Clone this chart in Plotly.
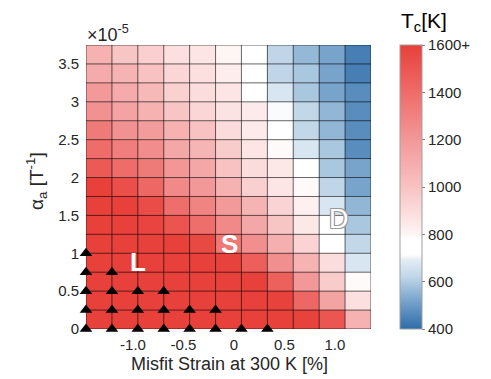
import plotly.graph_objects as go

# ---- data ----
x_edges = [-1.465, -1.208, -0.952, -0.695, -0.439, -0.182, 0.074, 0.331, 0.587, 0.844, 1.100, 1.357]
y_edges = [i * 0.25e-5 for i in range(16)]

# Tc [K], rows from bottom (alpha=0) to top, columns from left to right
tc = [
    [1600, 1600, 1600, 1600, 1600, 1600, 1600, 1600, 1590, 1500, 1080],
    [1600, 1600, 1600, 1600, 1600, 1600, 1600, 1590, 1420, 1150, 880],
    [1600, 1600, 1600, 1600, 1600, 1600, 1600, 1450, 1200, 960, 790],
    [1600, 1600, 1600, 1600, 1600, 1590, 1460, 1240, 1070, 890, 670],
    [1600, 1600, 1600, 1600, 1560, 1340, 1240, 1090, 930, 780, 625],
    [1600, 1600, 1580, 1510, 1390, 1270, 1130, 990, 850, 720, 590],
    [1600, 1600, 1540, 1390, 1290, 1190, 1070, 930, 820, 670, 555],
    [1600, 1530, 1420, 1270, 1200, 1080, 950, 860, 790, 620, 520],
    [1480, 1400, 1330, 1210, 1130, 1000, 900, 850, 720, 590, 520],
    [1400, 1320, 1250, 1130, 1060, 960, 860, 790, 670, 590, 470],
    [1330, 1230, 1180, 1080, 1000, 900, 840, 720, 625, 555, 470],
    [1230, 1150, 1080, 990, 920, 870, 840, 710, 625, 555, 470],
    [1190, 1110, 1050, 940, 890, 860, 780, 670, 590, 520, 470],
    [1110, 1070, 1000, 920, 880, 830, 730, 620, 590, 520, 440],
    [1080, 990, 950, 880, 860, 800, 720, 620, 560, 520, 440],
]

# triangles (liquid-phase markers): number of grid vertices per alpha row
tri_rows = [0.0, 0.25e-5, 0.5e-5, 0.75e-5, 1.0e-5]
tri_counts = [8, 6, 4, 2, 1]

region_labels = ["L", "S", "D"]
region_x = [-0.946, -0.043, 1.04]
region_y = [0.89e-5, 1.116e-5, 1.453e-5]

x_tickvals = [-1.0, -0.5, 0.0, 0.5, 1.0]
x_ticktext = ["-1.0", "-0.5", "0", "0.5", "1.0"]
y_tickvals = [0, 0.5e-5, 1e-5, 1.5e-5, 2e-5, 2.5e-5, 3e-5, 3.5e-5]
y_ticktext = ["0", "0.5", "1", "1.5", "2", "2.5", "3", "3.5"]
cb_tickvals = [400, 600, 800, 1000, 1200, 1400, 1600]
cb_ticktext = ["400", "600", "800", "1000", "1200", "1400", "1600+"]

zmin, zmax = 400, 1600

def n(v):
    return (v - zmin) / (zmax - zmin)

colorscale = [
    [n(400), "#2E6CA8"],
    [n(520), "#78A4CC"],
    [n(620), "#C0D6E8"],
    [n(690), "#E2ECF4"],
    [n(715), "#FFFFFF"],
    [n(780), "#FFFFFF"],
    [n(800), "#FEF5F5"],
    [n(880), "#FCE0E0"],
    [n(1000), "#F8C2C2"],
    [n(1200), "#F29898"],
    [n(1400), "#EE6C69"],
    [n(1600), "#E8403A"],
]

FONT = "Liberation Sans, Arial, Helvetica, sans-serif"
TXT = "#262626"
L, R, T, B = 86, 120, 45, 50
PW, PH = 491 - L - R, 379 - T - B

fig = go.Figure()
fig.add_trace(go.Heatmap(
    x=x_edges, y=y_edges, z=tc, zmin=zmin, zmax=zmax,
    colorscale=colorscale, hoverinfo="skip",
    colorbar=dict(
        x=(400 - L) / PW, xanchor="left", xref="paper", xpad=0, ypad=0,
        y=0.5, yanchor="middle", len=1.0, lenmode="fraction",
        thickness=22, thicknessmode="pixels",
        outlinecolor="#A0A0A0", outlinewidth=1,
        tickvals=cb_tickvals, ticktext=cb_ticktext,
        ticks="outside", ticklen=3, tickcolor="#808080",
        tickfont=dict(family=FONT, size=15, color=TXT),
    ),
))

tx, ty = [], []
for yv, cnt in zip(tri_rows, tri_counts):
    for k in range(cnt):
        tx.append(x_edges[k])
        ty.append(yv)
fig.add_trace(go.Scatter(
    x=tx, y=ty, mode="markers", cliponaxis=False, hoverinfo="skip",
    marker=dict(symbol="triangle-up", size=11, color="black"),
    showlegend=False,
))

shapes = []
for xv in x_edges:
    shapes.append(dict(type="line", xref="x", yref="y", x0=xv, x1=xv,
                       y0=y_edges[0], y1=y_edges[-1], layer="above",
                       line=dict(color="rgba(0,0,0,0.6)", width=1)))
for yv in y_edges:
    shapes.append(dict(type="line", xref="x", yref="y", x0=x_edges[0], x1=x_edges[-1],
                       y0=yv, y1=yv, layer="above",
                       line=dict(color="rgba(0,0,0,0.6)", width=1)))

annotations = []
for lab, lx, ly in zip(region_labels, region_x, region_y):
    if lab == "D":
        f = dict(family=FONT, size=27, color="white",
                 shadow="-1px -1px 0 #999, 1px -1px 0 #999, -1px 1px 0 #999, 1px 1px 0 #999")
    else:
        f = dict(family=FONT, size=26, color="white", weight="bold")
    annotations.append(dict(x=lx, y=ly, xref="x", yref="y", text=lab, showarrow=False,
                            font=f, xanchor="center", yanchor="middle"))

annotations.append(dict(xref="paper", yref="paper", x=(85 - L) / PW, y=(379 - B - 33) / PH,
                        text="×10<sup>-5</sup>", showarrow=False, xanchor="left", yanchor="middle",
                        font=dict(family=FONT, size=18, color=TXT)))
annotations.append(dict(xref="paper", yref="paper", x=(424 - L) / PW, y=(379 - B - 22) / PH,
                        text="T<sub>c</sub>[K]", showarrow=False, xanchor="center", yanchor="middle",
                        font=dict(family=FONT, size=21, color="black")))
annotations.append(dict(xref="paper", yref="paper", x=(229 - L) / PW, y=(379 - B - 364) / PH,
                        text="Misfit Strain at 300 K [%]", showarrow=False, xanchor="center",
                        yanchor="middle", font=dict(family=FONT, size=18, color=TXT)))
annotations.append(dict(xref="paper", yref="paper", x=(36 - L) / PW, y=(379 - B - 181) / PH,
                        text="α<sub>a</sub> [T<sup>-1</sup>]", showarrow=False, textangle=-90,
                        xanchor="center", yanchor="middle",
                        font=dict(family=FONT, size=19, color=TXT)))

fig.update_layout(
    width=491, height=379,
    margin=dict(l=L, r=R, t=T, b=B, autoexpand=False),
    paper_bgcolor="white", plot_bgcolor="white",
    font=dict(family=FONT, color=TXT),
    shapes=shapes, annotations=annotations, showlegend=False,
    xaxis=dict(range=[x_edges[0], x_edges[-1]], tickvals=x_tickvals, ticktext=x_ticktext,
               showgrid=False, zeroline=False, ticks="", ticklabelstandoff=5, automargin=False,
               tickfont=dict(family=FONT, size=15, color=TXT)),
    yaxis=dict(range=[y_edges[0], y_edges[-1]], tickvals=y_tickvals, ticktext=y_ticktext,
               showgrid=False, zeroline=False, ticks="", ticklabelstandoff=6, automargin=False,
               tickfont=dict(family=FONT, size=15, color=TXT)),
)

fig.write_html("out.html", config={"displayModeBar": False},
               post_script="document.body.style.margin='0';document.body.style.overflow='hidden';")
